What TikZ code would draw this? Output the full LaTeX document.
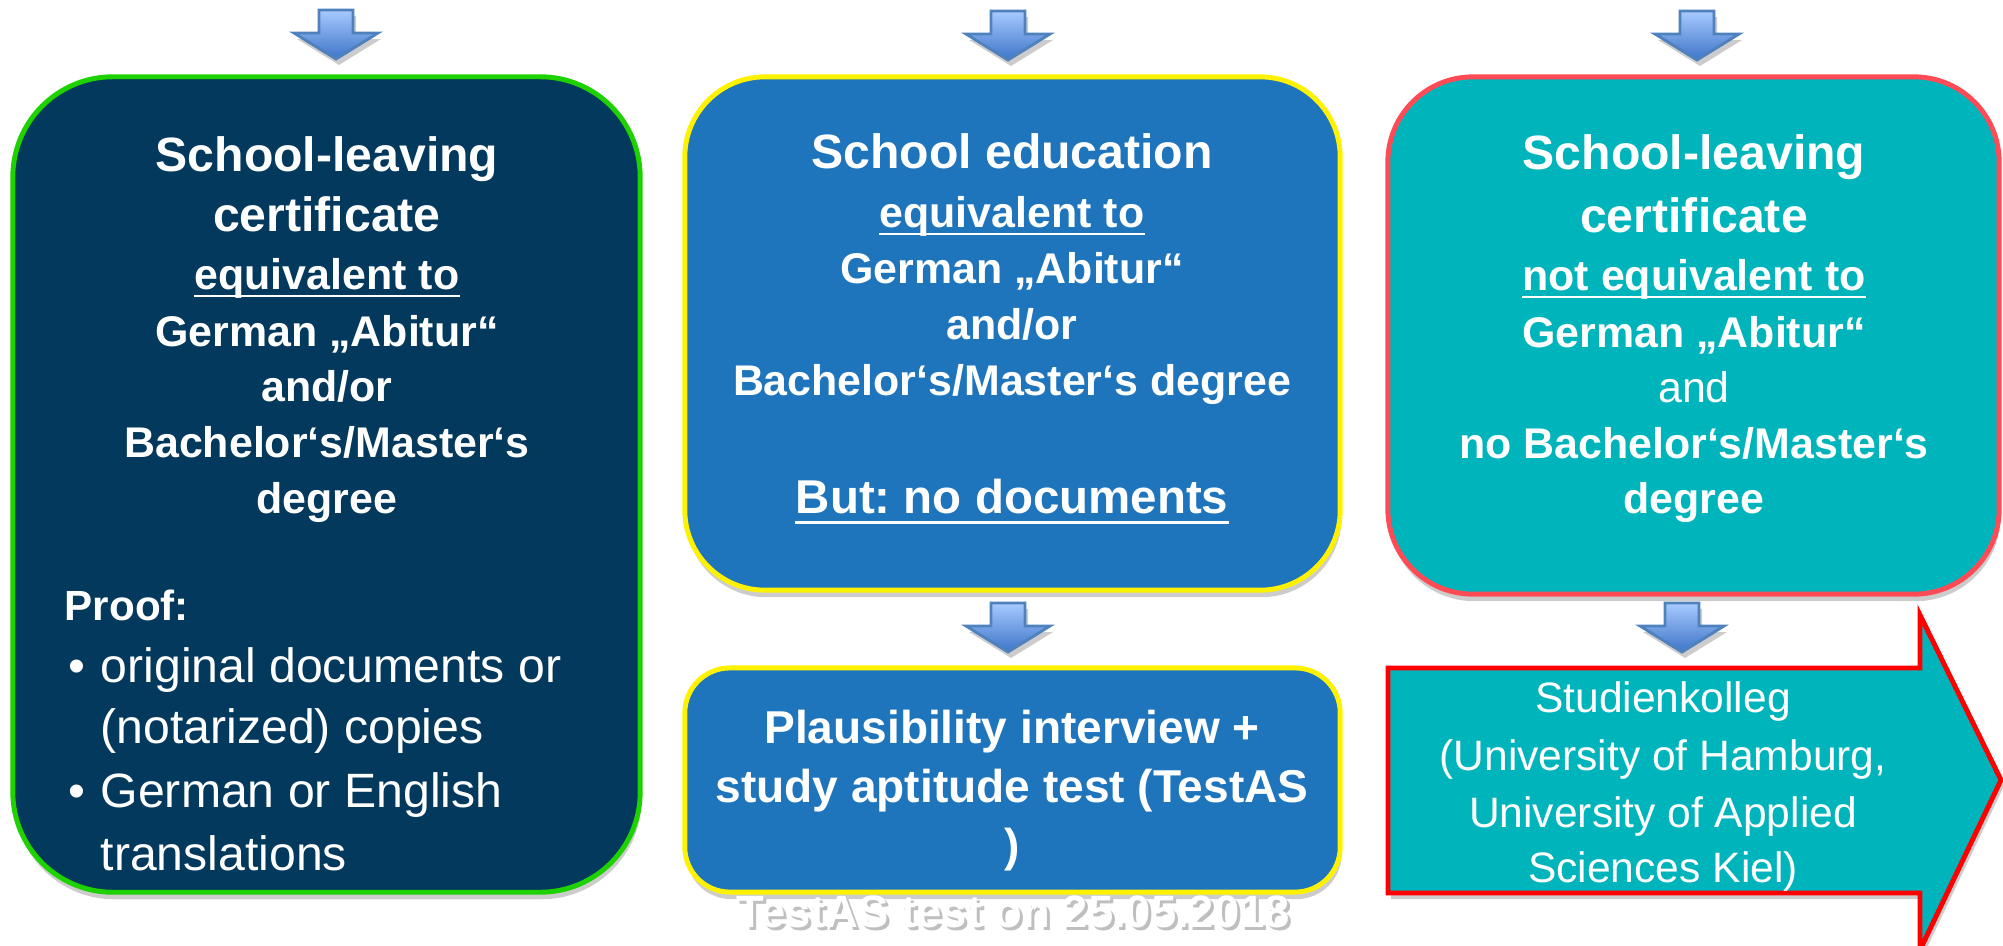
\documentclass[tikz,border=0pt]{standalone}
\usepackage{fontspec}
\setmainfont{Liberation Sans}
\usetikzlibrary{shadows}
\frenchspacing

\definecolor{navy}{RGB}{3,57,92}
\definecolor{lgreen}{RGB}{30,210,0}
\definecolor{midblue}{RGB}{30,117,188}
\definecolor{boxteal}{RGB}{0,180,188}
\definecolor{pinkred}{RGB}{255,75,85}
\definecolor{arrowtop}{RGB}{168,202,255}
\definecolor{arrowbot}{RGB}{62,116,200}
\definecolor{arrowline}{RGB}{79,129,189}

\tikzset{
  box/.style={line width=1.4pt, drop shadow={shadow xshift=0.4pt, shadow yshift=-2pt, fill=black!20, opacity=1}},
  title/.style={text=white, inner sep=0pt, anchor=base, font=\fontsize{13.7}{16}\selectfont\bfseries},
  body/.style={text=white, inner sep=0pt, anchor=base, font=\fontsize{12.2}{15}\selectfont\bfseries},
  butline/.style={text=white, inner sep=0pt, anchor=base, font=\fontsize{13.5}{16}\selectfont\bfseries},
  proofhead/.style={text=white, inner sep=0pt, anchor=base west, font=\fontsize{12}{15}\selectfont\bfseries},
  proof/.style={text=white, inner sep=0pt, anchor=base west, font=\fontsize{13.7}{16}\selectfont},
  plaus/.style={text=white, inner sep=0pt, anchor=base, font=\fontsize{13.1}{16}\selectfont\bfseries},
  kolleg/.style={text=white, inner sep=0pt, anchor=base, font=\fontsize{12.1}{15}\selectfont},
  foot/.style={inner sep=0pt, anchor=base, font=\fontsize{12.9}{15}\selectfont\bfseries},
  ul/.style={white, line width=0.8pt},
  dnarrow/.pic={
    \fill[black!20, shift={(3,6)}] (-17,0) -- (17,0) -- (17,23) -- (42,23) -- (0,49) -- (-42,23) -- (-17,23) -- cycle;
    \shade[top color=arrowtop, bottom color=arrowbot, draw=arrowline, line width=0.8pt] (-17,0) -- (17,0) -- (17,23) -- (42,23) -- (0,49) -- (-42,23) -- (-17,23) -- cycle;
  }
}

\begin{document}
\begin{tikzpicture}[x=0.01cm, y=-0.01cm]
  \useasboundingbox (0,0) rectangle (2003,945);

  % boxes
  \node[box, fill=navy, draw=lgreen, rounded corners=1cm, minimum width=6.27cm, minimum height=8.15cm] (cert) at (326.5,484.5) {};
  \node[box, fill=midblue, draw=yellow, rounded corners=0.8cm, minimum width=6.55cm, minimum height=5.13cm] (school) at (1012.5,333.5) {};
  \node[box, fill=boxteal, draw=pinkred, rounded corners=0.85cm, minimum width=6.11cm, minimum height=5.17cm] (noteq) at (1693.5,335.5) {};
  \node[box, fill=midblue, draw=yellow, rounded corners=0.45cm, minimum width=6.55cm, minimum height=2.24cm] (plaus) at (1012.5,780) {};

  % big arrow
  \fill[black!20, shift={(3,6)}] (1388,668) -- (1920,668) -- (1920,615) -- (2001,780) -- (1920,950) -- (1920,893) -- (1388,893) -- cycle;
  \draw[red, fill=boxteal, line width=1.4pt] (1388,668) -- (1920,668) -- (1920,615) -- (2001,780) -- (1920,950) -- (1920,893) -- (1388,893) -- cycle;

  % small arrows
  \pic (ta1) at (336,10) {dnarrow};
  \pic (ta2) at (1008,11) {dnarrow};
  \pic (ta3) at (1697,11) {dnarrow};
  \pic (ba1) at (1008,603) {dnarrow};
  \pic (ba2) at (1682,603) {dnarrow};

  % left box
  \foreach [count=\i] \txt/\yy in {{School-leaving}/171, {certificate}/231}
    \node[title] (lt\i) at (327,\yy) {\txt};
  \foreach [count=\i] \txt/\yy in {{equivalent to}/289, {German „Abitur“}/346, {and/or}/401, {Bachelor‘s/Master‘s}/457, {degree}/513}
    \node[body] (lb\i) at (327,\yy) {\txt};
  \draw[ul] ([yshift=-2pt]lb1.base west) -- ([yshift=-2pt]lb1.base east);
  \node[proofhead] (ph) at (64,620) {Proof:};
  \node[proof] (pb1) at (68,682) {\textbullet};
  \node[proof] (pb2) at (68,807) {\textbullet};
  \foreach [count=\i] \txt/\yy in {{original documents or}/682, {(notarized) copies}/743, {German or English}/807, {translations}/870}
    \node[proof] (pl\i) at (100,\yy) {\txt};

  % middle box
  \node[title] (mt1) at (1012,168) {School education};
  \foreach [count=\i] \txt/\yy in {{equivalent to}/227, {German „Abitur“}/283, {and/or}/339, {Bachelor‘s/Master‘s degree}/395}
    \node[body] (mb\i) at (1012,\yy) {\txt};
  \draw[ul] ([yshift=-2pt]mb1.base west) -- ([yshift=-2pt]mb1.base east);
  \node[butline] (mbut) at (1012,513) {But: no documents};
  \draw[ul, line width=0.9pt] ([yshift=-2.6pt]mbut.base west) -- ([yshift=-2.6pt]mbut.base east);

  % right box
  \foreach [count=\i] \txt/\yy in {{School-leaving}/169, {certificate}/232}
    \node[title] (rt\i) at (1694,\yy) {\txt};
  \foreach [count=\i] \txt/\yy in {{not equivalent to}/290, {German „Abitur“}/347, {\mdseries and}/402, {no Bachelor‘s/Master‘s}/458, {degree}/513}
    \node[body] (rb\i) at (1694,\yy) {\txt};
  \draw[ul] ([yshift=-2pt]rb1.base west) -- ([yshift=-2pt]rb1.base east);

  % lower boxes
  \foreach [count=\i] \txt/\yy in {{Plausibility interview +}/743, {study aptitude test (TestAS}/802, {)}/861}
    \node[plaus] (pi\i) at (1012,\yy) {\txt};
  \foreach [count=\i] \txt/\yy in {{Studienkolleg}/712, {(University of Hamburg,}/770, {University of Applied}/827, {Sciences Kiel)}/882}
    \node[kolleg] (sk\i) at (1663,\yy) {\txt};

  % date
  \node[foot, text=black!25] (dateshadow) at (1016,930) {TestAS test on 25.05.2018};
  \node[foot, text=white] (date) at (1013,927) {TestAS test on 25.05.2018};
\end{tikzpicture}
\end{document}
